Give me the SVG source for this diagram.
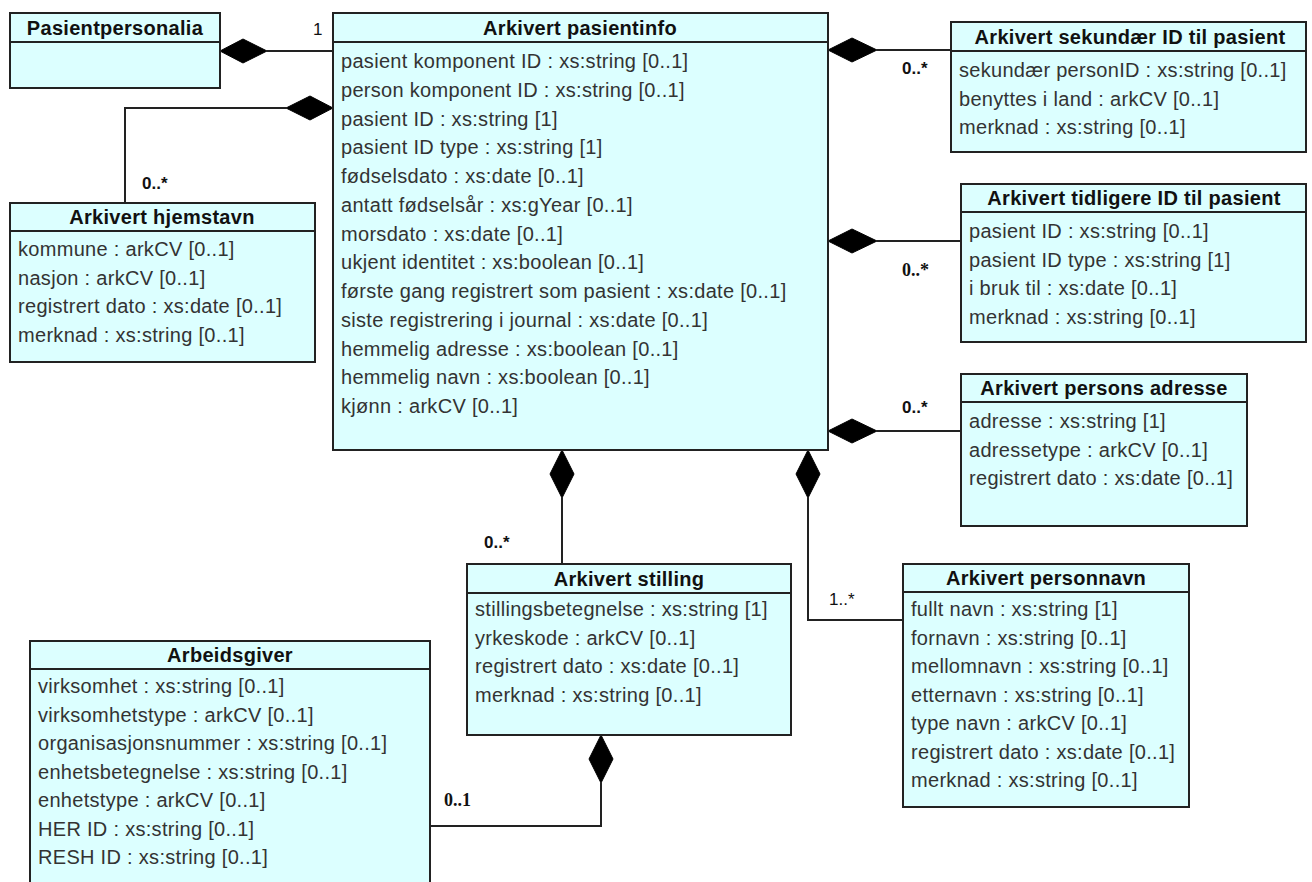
<svg xmlns="http://www.w3.org/2000/svg" width="1312" height="882" viewBox="0 0 1312 882">
<style>
.box{fill:#DCFFFF;stroke:#222;stroke-width:2}
.sep{stroke:#222;stroke-width:2}
.hd{font-family:"Liberation Sans",Arial,sans-serif;font-weight:bold;font-size:20px;fill:#111;text-anchor:middle;letter-spacing:0.3px}
.at{font-family:"Liberation Sans",Arial,sans-serif;font-size:20px;fill:#333;letter-spacing:0.3px}
.ln{fill:none;stroke:#222;stroke-width:2}
.dm{fill:#000;stroke:#000;stroke-width:1}
.ml{font-family:"Liberation Sans",Arial,sans-serif;font-size:17px;fill:#111}
.mls{font-family:"Liberation Serif","Times New Roman",serif;font-size:18px;fill:#111;font-weight:bold}
</style>
<rect width="1312" height="882" fill="#fff"/>

<g id="connectors">
  <polygon class="dm" points="220,51 243,39 267,51 243,63"/>
  <path class="ln" d="M267,51 H333"/>
  <text class="ml" x="313" y="35">1</text>

  <polygon class="dm" points="333,108 310,96 286,108 310,120"/>
  <path class="ln" d="M286,108 H125 V203"/>
  <text class="ml" x="142" y="189" font-weight="bold">0..*</text>

  <polygon class="dm" points="828,50 852,38 877,50 852,62"/>
  <path class="ln" d="M877,50 H951"/>
  <text class="ml" x="902" y="74" font-weight="bold">0..*</text>

  <polygon class="dm" points="828,241 852,229 877,241 852,253"/>
  <path class="ln" d="M877,241 H961"/>
  <text class="mls" x="902" y="276">0..*</text>

  <polygon class="dm" points="828,431 852,419 877,431 852,443"/>
  <path class="ln" d="M877,431 H961"/>
  <text class="ml" x="902" y="413" font-weight="bold">0..*</text>

  <polygon class="dm" points="562,450 574,474 562,498 550,474"/>
  <path class="ln" d="M562,498 V564"/>
  <text class="ml" x="484" y="548" font-weight="bold">0..*</text>

  <polygon class="dm" points="808,450 820,474 808,498 796,474"/>
  <path class="ln" d="M808,498 V620 H903"/>
  <text class="ml" x="829" y="605">1..*</text>

  <polygon class="dm" points="601,735 613,759 601,783 589,759"/>
  <path class="ln" d="M601,783 V826 H430"/>
  <text class="mls" x="444" y="806">0..1</text>
</g>

<g id="pasientpersonalia">
  <rect class="box" x="10" y="13" width="210" height="75"/>
  <line class="sep" x1="10" y1="42" x2="220" y2="42"/>
  <text class="hd" x="115" y="35">Pasientpersonalia</text>
</g>

<g id="arkivert-pasientinfo">
  <rect class="box" x="333" y="13" width="495" height="437"/>
  <line class="sep" x1="333" y1="42" x2="828" y2="42"/>
  <text class="hd" x="580" y="35">Arkivert pasientinfo</text>
  <text class="at" x="341" y="68">pasient komponent ID : xs:string [0..1]</text>
  <text class="at" x="341" y="96.75">person komponent ID : xs:string [0..1]</text>
  <text class="at" x="341" y="125.5">pasient ID : xs:string [1]</text>
  <text class="at" x="341" y="154.25">pasient ID type : xs:string [1]</text>
  <text class="at" x="341" y="183">fødselsdato : xs:date [0..1]</text>
  <text class="at" x="341" y="211.75">antatt fødselsår : xs:gYear [0..1]</text>
  <text class="at" x="341" y="240.5">morsdato : xs:date [0..1]</text>
  <text class="at" x="341" y="269.25">ukjent identitet : xs:boolean [0..1]</text>
  <text class="at" x="341" y="298">første gang registrert som pasient : xs:date [0..1]</text>
  <text class="at" x="341" y="326.75">siste registrering i journal : xs:date [0..1]</text>
  <text class="at" x="341" y="355.5">hemmelig adresse : xs:boolean [0..1]</text>
  <text class="at" x="341" y="384.25">hemmelig navn : xs:boolean [0..1]</text>
  <text class="at" x="341" y="413">kjønn : arkCV [0..1]</text>
</g>

<g id="sekundaer-id">
  <rect class="box" x="951" y="22" width="355" height="130"/>
  <line class="sep" x1="951" y1="51" x2="1306" y2="51"/>
  <text class="hd" x="1130" y="44">Arkivert sekundær ID til pasient</text>
  <text class="at" x="959" y="77">sekundær personID : xs:string [0..1]</text>
  <text class="at" x="959" y="105.5">benyttes i land : arkCV [0..1]</text>
  <text class="at" x="959" y="134">merknad : xs:string [0..1]</text>
</g>

<g id="hjemstavn">
  <rect class="box" x="10" y="203" width="305" height="159"/>
  <line class="sep" x1="10" y1="231" x2="315" y2="231"/>
  <text class="hd" x="162" y="224">Arkivert hjemstavn</text>
  <text class="at" x="18" y="256">kommune : arkCV [0..1]</text>
  <text class="at" x="18" y="284.5">nasjon : arkCV [0..1]</text>
  <text class="at" x="18" y="313">registrert dato : xs:date [0..1]</text>
  <text class="at" x="18" y="341.5">merknad : xs:string [0..1]</text>
</g>

<g id="tidligere-id">
  <rect class="box" x="961" y="184" width="345" height="158"/>
  <line class="sep" x1="961" y1="212" x2="1306" y2="212"/>
  <text class="hd" x="1134" y="205">Arkivert tidligere ID til pasient</text>
  <text class="at" x="969" y="238">pasient ID : xs:string [0..1]</text>
  <text class="at" x="969" y="266.5">pasient ID type : xs:string [1]</text>
  <text class="at" x="969" y="295">i bruk til : xs:date [0..1]</text>
  <text class="at" x="969" y="323.5">merknad : xs:string [0..1]</text>
</g>

<g id="persons-adresse">
  <rect class="box" x="961" y="374" width="286" height="152"/>
  <line class="sep" x1="961" y1="402" x2="1247" y2="402"/>
  <text class="hd" x="1104" y="395">Arkivert persons adresse</text>
  <text class="at" x="969" y="428">adresse : xs:string [1]</text>
  <text class="at" x="969" y="456.5">adressetype : arkCV [0..1]</text>
  <text class="at" x="969" y="485">registrert dato : xs:date [0..1]</text>
</g>

<g id="stilling">
  <rect class="box" x="467" y="564" width="324" height="171"/>
  <line class="sep" x1="467" y1="593" x2="791" y2="593"/>
  <text class="hd" x="629" y="586">Arkivert stilling</text>
  <text class="at" x="475" y="616">stillingsbetegnelse : xs:string [1]</text>
  <text class="at" x="475" y="644.5">yrkeskode : arkCV [0..1]</text>
  <text class="at" x="475" y="673">registrert dato : xs:date [0..1]</text>
  <text class="at" x="475" y="701.5">merknad : xs:string [0..1]</text>
</g>

<g id="personnavn">
  <rect class="box" x="903" y="564" width="286" height="243"/>
  <line class="sep" x1="903" y1="592" x2="1189" y2="592"/>
  <text class="hd" x="1046" y="585">Arkivert personnavn</text>
  <text class="at" x="911" y="616">fullt navn : xs:string [1]</text>
  <text class="at" x="911" y="644.5">fornavn : xs:string [0..1]</text>
  <text class="at" x="911" y="673">mellomnavn : xs:string [0..1]</text>
  <text class="at" x="911" y="701.5">etternavn : xs:string [0..1]</text>
  <text class="at" x="911" y="730">type navn : arkCV [0..1]</text>
  <text class="at" x="911" y="758.5">registrert dato : xs:date [0..1]</text>
  <text class="at" x="911" y="787">merknad : xs:string [0..1]</text>
</g>

<g id="arbeidsgiver">
  <rect class="box" x="30" y="641" width="400" height="260"/>
  <line class="sep" x1="30" y1="669" x2="430" y2="669"/>
  <text class="hd" x="230" y="662">Arbeidsgiver</text>
  <text class="at" x="38" y="693">virksomhet : xs:string [0..1]</text>
  <text class="at" x="38" y="721.5">virksomhetstype : arkCV [0..1]</text>
  <text class="at" x="38" y="750">organisasjonsnummer : xs:string [0..1]</text>
  <text class="at" x="38" y="778.5">enhetsbetegnelse : xs:string [0..1]</text>
  <text class="at" x="38" y="807">enhetstype : arkCV [0..1]</text>
  <text class="at" x="38" y="835.5">HER ID : xs:string [0..1]</text>
  <text class="at" x="38" y="864">RESH ID : xs:string [0..1]</text>
</g>
</svg>
